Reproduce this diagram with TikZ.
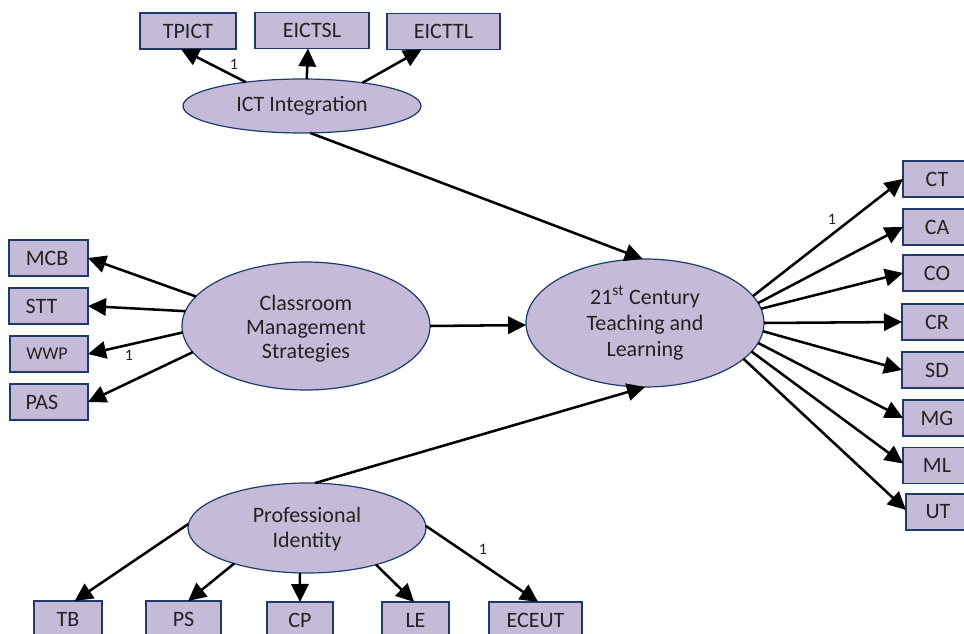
\documentclass[tikz,border=0pt]{standalone}
\usepackage{fontspec}
\setmainfont{Carlito}
\usetikzlibrary{arrows.meta,shapes.geometric}
\definecolor{fillc}{HTML}{C5BBD8}
\definecolor{edgec}{HTML}{1F3A6B}
\definecolor{textc}{HTML}{222222}
\tikzset{
  basenode/.style={draw=edgec,fill=fillc,line width=0.9pt,inner sep=0pt,outer sep=0pt,text=textc,align=center,font=\fontsize{16.5}{18}\selectfont},
  boxnode/.style={basenode,rectangle,minimum height=36*.75pt},
  latent/.style={basenode,ellipse},
  conn/.style={line width=1.9pt,draw=black,-{Triangle[length=13.5pt,width=13pt]}},
  weight/.style={inner sep=0pt,text=textc,font=\fontsize{12}{14}\selectfont}
}
\begin{document}
\begin{tikzpicture}[x=.75pt,y=-.75pt]
\useasboundingbox (0,0) rectangle (964,634);
\clip (0,0) rectangle (964,634);
\fill[white] (0,0) rectangle (964,634);
% latent variables
\node[latent,minimum width=238*.75pt,minimum height=54*.75pt] (ict) at (302,106) {ICT Integration};
\node[latent,minimum width=248*.75pt,minimum height=128*.75pt] (cms) at (306,326) {\rule{0pt}{15.5pt}Classroom\\Management\\Strategies};
\node[latent,minimum width=238*.75pt,minimum height=128*.75pt] (cen) at (645,323) {21\textsuperscript{st} Century\\[1.5pt]Teaching and\\[1.5pt]Learning};
\node[latent,minimum width=238*.75pt,minimum height=90*.75pt] (pid) at (307,528) {\rule{0pt}{13pt}Professional\\[.75pt]Identity};
% top boxes
\node[boxnode,minimum width=96*.75pt] (tpict) at (188,31) {TPICT};
\node[boxnode,minimum width=114*.75pt] (eictsl) at (312,30.5) {EICTSL};
\node[boxnode,minimum width=113*.75pt] (eicttl) at (443.5,31.5) {EICTTL};
% left boxes
\node[boxnode,minimum width=79*.75pt] (mcb) at (48.5,258) {MCB\hspace*{2pt}};
\node[boxnode,minimum width=79*.75pt] (stt) at (48.5,306) {STT\hspace*{10.5pt}};
\node[boxnode,minimum width=78*.75pt] (wwp) at (49,354) {\fontsize{13.5}{15}\selectfont WWP\hspace*{3pt}};
\node[boxnode,minimum width=78*.75pt] (pas) at (49,402) {PAS\hspace*{10.5pt}};
% right boxes
\node[boxnode,minimum width=68*.75pt] (ct) at (937,179) {CT};
\node[boxnode,minimum width=68*.75pt] (ca) at (937,227) {CA};
\node[boxnode,minimum width=68*.75pt] (co) at (937,273) {CO};
\node[boxnode,minimum width=70*.75pt] (cr) at (937,322) {CR};
\node[boxnode,minimum width=70*.75pt] (sd) at (937,370) {SD};
\node[boxnode,minimum width=68*.75pt] (mg) at (937,418) {MG};
\node[boxnode,minimum width=68*.75pt] (ml) at (937,465.5) {ML};
\node[boxnode,minimum width=64*.75pt] (ut) at (938,512) {UT};
% bottom boxes
\node[boxnode,minimum width=68*.75pt] (tb) at (68,619) {TB};
\node[boxnode,minimum width=75*.75pt] (ps) at (183.5,619) {PS};
\node[boxnode,minimum width=66*.75pt] (cp) at (300,620) {CP};
\node[boxnode,minimum width=67*.75pt] (le) at (415.5,620) {LE};
\node[boxnode,minimum width=93*.75pt] (eceut) at (535.5,620) {ECEUT};
% connectors
\draw[conn] (ict.157.5) -- ([xshift=-5.3pt]tpict.south);
\draw[conn] (ict.80) -- ([xshift=-3pt]eictsl.south);
\draw[conn] (ict.21.8) -- ([xshift=-16.5pt]eicttl.south);
\draw[conn] (ict.-73) -- (cen.92.7);
\draw[conn] (cms.165) -- (mcb.east);
\draw[conn] (cms.173.5) -- (stt.east);
\draw[conn] (cms.183.7) -- (wwp.east);
\draw[conn] (cms.193.3) -- (pas.east);
\draw[conn] (cms.east) -- (cen.181.9);
\draw[conn] (pid.80) -- (cen.-90);
\draw[conn] (cen.14.4) -- (ct.west);
\draw[conn] (cen.10) -- (ca.west);
\draw[conn] (cen.7.2) -- (co.west);
\draw[conn] (cen.0) -- (cr.west);
\draw[conn] (cen.-4.3) -- (sd.west);
\draw[conn] (cen.-10) -- (mg.west);
\draw[conn] (cen.-15.2) -- ([yshift=1.5pt]ml.west);
\draw[conn] (cen.-20) -- ([yshift=1.5pt]ut.west);
\draw[conn] (pid.178.6) -- ([xshift=5pt]tb.north);
\draw[conn] (pid.206.9) -- ([xshift=3.4pt]ps.north);
\draw[conn] (pid.261) -- (cp.north);
\draw[conn] (pid.-28.8) -- ([xshift=-1pt]le.north);
\draw[conn] (pid.1) -- ([xshift=2pt]eceut.north);
% weights
\node[weight] (w1) at (234,64) {1};
\node[weight] (w2) at (832,219) {1};
\node[weight] (w3) at (129,355) {1};
\node[weight] (w4) at (483,549) {1};
\end{tikzpicture}
\end{document}
